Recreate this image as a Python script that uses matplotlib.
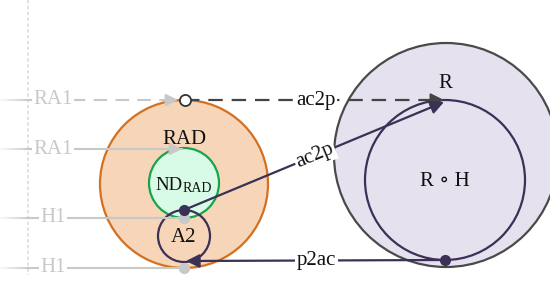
import matplotlib
matplotlib.use('Agg')
import matplotlib.pyplot as plt
from matplotlib.patches import Circle
import numpy as np

plt.rcParams['font.family'] = ['Liberation Serif', 'DejaVu Serif']

NAVY = '#3b3056'
GREY = '#c8c8c8'
DARK = '#444444'

# circles: name -> (x, y, r, face, edge)
circles = {
    'RAD': (184, 184, 84, '#f6d5b9', '#d4701f'),
    'ND':  (184, 183, 35, '#d8fbe8', '#1aa34a'),
    'A2':  (184, 236, 26, 'none', NAVY),
    'RH':  (446, 155, 112, '#e5e1ef', '#4a4a4a'),
    'R':   (445, 180, 80, 'none', NAVY),
}

# left-hand context labels and the rows they sit on
side_labels = ['RA1', 'RA1', 'H1', 'H1']
side_rows = [100, 149, 218, 268]
side_ends = [178, 182, 184, 184]
side_kind = ['dash_arrow', 'arrow', 'dot', 'dot']

# edges between nodes: (start, end, label, style)
edges = [
    ((185, 100), (444, 100), 'ac2p', 'dashed'),
    ((184, 210), (444, 102), 'ac2p', 'solid'),
    ((445, 260), (186, 261), 'p2ac', 'solid'),
]

# node labels
node_text = [('RAD', 184, 139), ('A2', 184, 237), ('R', 445, 84), ('R ∘ H', 445, 181)]

fig = plt.figure(figsize=(5.5, 2.99), dpi=100)
ax = fig.add_axes([0, 0, 1, 1])
ax.set_xlim(0, 550)
ax.set_ylim(299, 0)
ax.axis('off')

FS = 15

# faint dotted guide
ax.plot([28, 28], [0, 275], color='#dddddd', lw=1.2, ls=(0, (2, 1.5)), zorder=1)

for name, (x, y, r, fc, ec) in circles.items():
    ax.add_patch(Circle((x, y), r, facecolor=fc, edgecolor=ec, lw=1.6, zorder=2))

# side lines
for lab, y, xe, kind in zip(side_labels, side_rows, side_ends, side_kind):
    dashed = kind == 'dash_arrow'
    xs = np.linspace(0, 28, 8)
    for i in range(len(xs) - 1):
        ax.plot(xs[i:i + 2], [y, y], color=GREY, alpha=0.15 + 0.85 * i / 7, lw=1.5,
                solid_capstyle='butt', zorder=3)
    if dashed:
        ax.plot([28, xe - 6], [y, y], color=GREY, lw=1.5, ls='--', dashes=(6.5, 4), zorder=3)
    else:
        ax.plot([28, xe], [y, y], color=GREY, lw=1.5, zorder=3)
    if kind in ('dash_arrow', 'arrow'):
        ax.annotate('', xy=(xe, y), xytext=(xe - 10, y),
                    arrowprops=dict(arrowstyle='-|>', color=GREY, lw=1.5,
                                    mutation_scale=18, shrinkA=0, shrinkB=0))
    else:
        ax.plot(xe, y, 'o', color=GREY, ms=7, zorder=6)
    ax.text(53, y, lab, color=GREY, fontsize=FS, ha='center', va='center',
            bbox=dict(facecolor='white', edgecolor='none', pad=1), zorder=5)

# edges
for (x0, y0), (x1, y1), lab, style in edges:
    col = DARK if style == 'dashed' else NAVY
    ang = np.degrees(np.arctan2(-(y1 - y0), x1 - x0))
    if ang > 90 or ang < -90:
        ang = 0
    if style == 'dashed':
        ax.plot([x0, x1 - 10], [y0, y1], color=col, lw=1.6, ls='--', dashes=(6.5, 4), zorder=3)
        ax.annotate('', xy=(x1, y1), xytext=(x1 - 14, y1),
                    arrowprops=dict(arrowstyle='-|>', color=col, lw=1.5,
                                    mutation_scale=20, shrinkA=0, shrinkB=0))
        ax.plot(x0, y0, 'o', mfc='white', mec='#333333', mew=1.3, ms=8, zorder=6)
    else:
        ax.annotate('', xy=(x1, y1), xytext=(x0, y0),
                    arrowprops=dict(arrowstyle='-|>', color=col, lw=1.6,
                                    mutation_scale=20, shrinkA=0, shrinkB=0))
        ax.plot(x0, y0, 'o', color=col, ms=7, zorder=6)
    ax.text((x0 + x1) / 2 + 1, (y0 + y1) / 2, lab, fontsize=FS, ha='center', va='center',
            rotation=ang, color='#111111',
            bbox=dict(facecolor='white', edgecolor='none', pad=1), zorder=5)

for lab, x, y in node_text:
    ax.text(x, y, lab, fontsize=FS, ha='center', va='center', color='#111111', zorder=7)

# ND with RAD subscript
ax.text(183, 185, 'ND', fontsize=13.5, ha='right', va='center', color='#111111', zorder=7)
ax.text(183, 189, 'RAD', fontsize=10, ha='left', va='center', color='#111111', zorder=7)

fig.savefig('out.png', dpi=100)
